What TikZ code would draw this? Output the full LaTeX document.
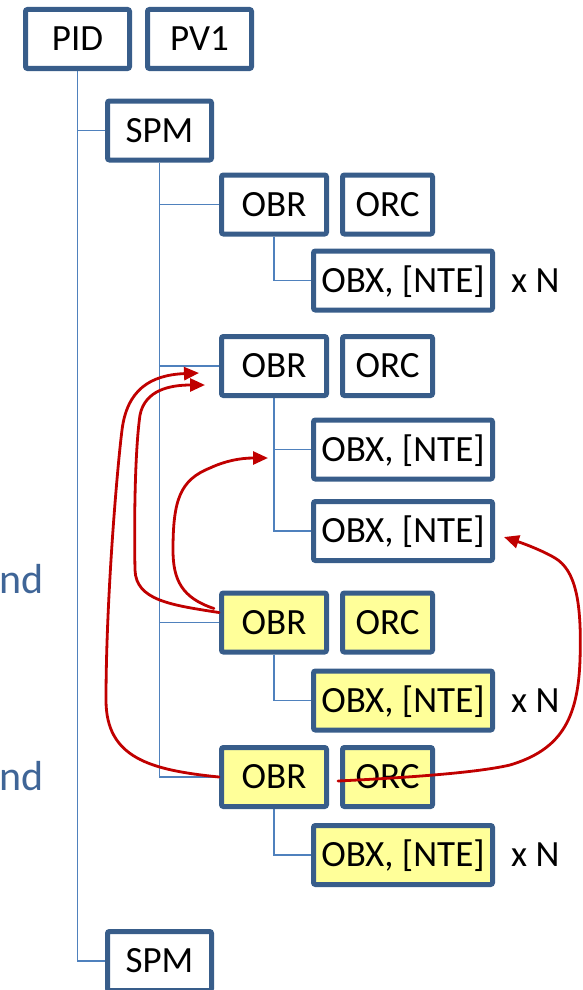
\documentclass[tikz,border=0pt]{standalone}
\usepackage{fontspec}
\setmainfont{Carlito}
\usetikzlibrary{arrows.meta,backgrounds}
\definecolor{bx}{HTML}{385D8A}
\definecolor{ln}{HTML}{4F81BD}
\definecolor{yl}{HTML}{FFFF99}
\definecolor{rd}{HTML}{C00000}
\definecolor{tx}{HTML}{3F6597}
\begin{document}
\begin{tikzpicture}[x=1pt,y=-1pt,
 seg/.style={draw=bx, line width=5pt, rounded corners=2pt, fill=white, minimum height=59pt, inner sep=0pt, font=\fontsize{37}{40}\selectfont, text height=23.5pt, text depth=0pt},
 yseg/.style={seg, fill=yl},
 wa/.style={minimum width=104pt},
 wobr/.style={minimum width=105pt},
 worc/.style={minimum width=90pt},
 wobx/.style={minimum width=179pt},
 tree/.style={draw=ln, line width=1.6pt},
 rarr/.style={draw=rd, line width=2.8pt, line cap=round, -{Triangle[length=15pt,width=13pt]}},
 mult/.style={font=\fontsize{37}{40}\selectfont, anchor=west, inner sep=0pt, text height=23.5pt, text depth=0pt},
 side/.style={font=\fontsize{42}{46}\selectfont, text=tx, anchor=base west, inner sep=0pt}]
\useasboundingbox (0,0) rectangle (582,990);

% boxes
\node[seg,wa] (PID) at (77.5,39) {PID};
\node[seg,wa] (PV1) at (199.5,39) {PV1};
\node[seg,wa] (SPM1) at (159.5,130.5) {SPM};

\node[seg,wobr] (OBR1) at (274,204.5) {OBR};
\node[seg,worc] (ORC1) at (387.5,204.5) {ORC};
\node[seg,wobx] (OBX1) at (403,280.5) {OBX, [NTE]};
\node[mult] (xn1) at ([xshift=16pt]OBX1.east) {x N};

\node[seg,wobr] (OBR2) at (274,366) {OBR};
\node[seg,worc] (ORC2) at (387.5,366) {ORC};
\node[seg,wobx] (OBX2) at (403,449.5) {OBX, [NTE]};
\node[seg,wobx] (OBX3) at (403,531) {OBX, [NTE]};

\node[yseg,wobr] (OBR3) at (274,622.5) {OBR};
\node[yseg,worc] (ORC3) at (387.5,622.5) {ORC};
\node[yseg,wobx] (OBX4) at (403,700.5) {OBX, [NTE]};
\node[mult] (xn2) at ([xshift=16pt]OBX4.east) {x N};

\node[yseg,wobr] (OBR4) at (274,777) {OBR};
\node[yseg,worc] (ORC4) at (387.5,777) {ORC};
\node[yseg,wobx] (OBX5) at (403,855) {OBX, [NTE]};
\node[mult] (xn3) at ([xshift=16pt]OBX5.east) {x N};

\node[seg,wa] (SPM2) at (159.5,961) {SPM};

\node[side] (nd1) at (-1,593) {nd};
\node[side] (nd2) at (-1,790) {nd};

% tree connectors
\begin{scope}[on background layer]
\draw[tree] (PID.south) |- (SPM2.west);
\draw[tree] (SPM1.west) -- (PID.south |- SPM1.west);
\draw[tree] (SPM1.south) |- (OBR4.west);
\draw[tree] (OBR1.west) -- (SPM1.south |- OBR1.west);
\draw[tree] (OBR2.west) -- (SPM1.south |- OBR2.west);
\draw[tree] (OBR3.west) -- (SPM1.south |- OBR3.west);
\draw[tree] (OBR1.south) |- (OBX1.west);
\draw[tree] (OBR2.south) |- (OBX3.west);
\draw[tree] (OBX2.west) -- (OBR2.south |- OBX2.west);
\draw[tree] (OBR3.south) |- (OBX4.west);
\draw[tree] (OBR4.south) |- (OBX5.west);
\end{scope}

% red arrows
\coordinate (ta) at (199,373);
\coordinate (tb) at (205,385);
\coordinate (tc) at (268,458);
\coordinate (td) at (504,537);
\coordinate (sb) at ([yshift=10pt]OBR3.west);
\coordinate (sc) at ([xshift=-5pt,yshift=14pt]OBR3.west);
\coordinate (sd) at ([xshift=9pt,yshift=-4pt]OBR4.east);

\draw[rarr] (OBR4.west) .. controls (150,770) and (106,758) .. (106,700)
  .. controls (106,600) and (117,470) .. (122,430)
  .. controls (127,390) and (150,375) .. (ta);
\draw[rarr] (sb) .. controls (170,605) and (136,600) .. (135,570)
  .. controls (134,520) and (135,450) .. (140,415)
  .. controls (145,390) and (170,385) .. (tb);
\draw[rarr] (sc) .. controls (182,598) and (173,580) .. (173,550)
  .. controls (173,500) and (180,480) .. (210,468)
  .. controls (225,461) and (240,458) .. (tc);
\draw[rarr] (sd) .. controls (420,777) and (480,772) .. (510,765)
  .. controls (560,750) and (578,720) .. (580,660)
  .. controls (582,600) and (575,570) .. (555,558)
  .. controls (545,552) and (528,545) .. (td);
\end{tikzpicture}
\end{document}
